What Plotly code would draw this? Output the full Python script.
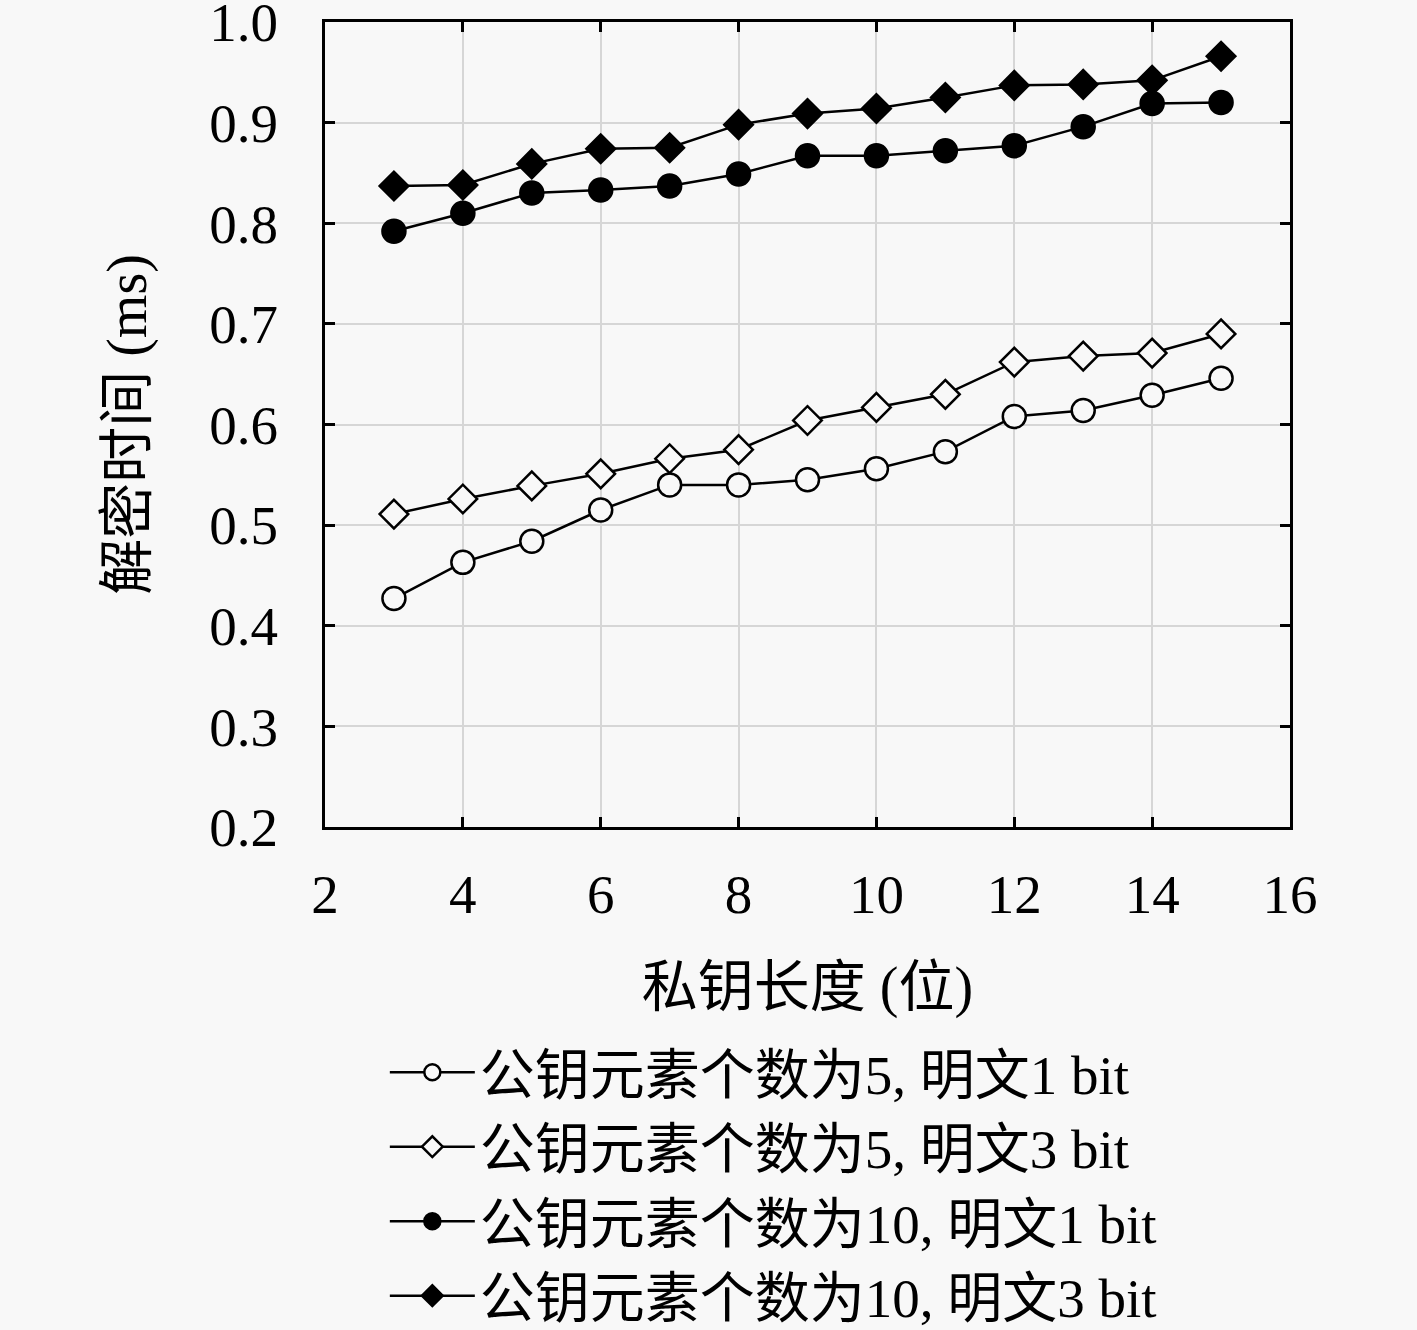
import plotly.graph_objects as go

key_len = [3, 4, 5, 6, 7, 8, 9, 10, 11, 12, 13, 14, 15]

s1_name = "公钥元素个数为5, 明文1 bit"
s1_vals = [0.427, 0.463, 0.484, 0.515, 0.540, 0.540, 0.545, 0.556, 0.573, 0.608, 0.614, 0.629, 0.646]

s2_name = "公钥元素个数为5, 明文3 bit"
s2_vals = [0.511, 0.526, 0.539, 0.551, 0.566, 0.575, 0.604, 0.617, 0.630, 0.662, 0.668, 0.671, 0.690]

s3_name = "公钥元素个数为10, 明文1 bit"
s3_vals = [0.792, 0.810, 0.830, 0.833, 0.837, 0.849, 0.867, 0.867, 0.872, 0.877, 0.896, 0.919, 0.920]

s4_name = "公钥元素个数为10, 明文3 bit"
s4_vals = [0.837, 0.838, 0.859, 0.874, 0.875, 0.898, 0.909, 0.914, 0.925, 0.937, 0.938, 0.942, 0.966]

x_ticks = [2, 4, 6, 8, 10, 12, 14, 16]
y_ticks = [0.2, 0.3, 0.4, 0.5, 0.6, 0.7, 0.8, 0.9, 1.0]
y_tick_labels = ["0.2", "0.3", "0.4", "0.5", "0.6", "0.7", "0.8", "0.9", "1.0"]

x_title = "私钥长度 (位)"
y_title = "解密时间 (ms)"

FONT = "Liberation Serif, Noto Sans CJK SC, serif"
BG = "#f8f8f8"

styles = [
    (s1_name, s1_vals, "circle", BG, 23),
    (s2_name, s2_vals, "diamond", BG, 22),
    (s3_name, s3_vals, "circle", "black", 23),
    (s4_name, s4_vals, "diamond", "black", 22),
]

fig = go.Figure()
for name, vals, sym, fill, size in styles:
    fig.add_trace(go.Scatter(
        x=key_len, y=vals, name=name, mode="lines+markers",
        line=dict(color="black", width=2.5),
        marker=dict(symbol=sym, size=size, color=fill,
                    line=dict(color="black", width=2.5)),
    ))

axis_common = dict(
    showline=True, linecolor="black", linewidth=3, mirror="ticks",
    ticks="inside", ticklen=10, tickwidth=2.5, tickcolor="black",
    showgrid=True, gridcolor="#d6d6d6", gridwidth=2,
    zeroline=False, ticklabeloverflow="allow",
    tickfont=dict(family=FONT, size=55, color="black"),
)

fig.update_xaxes(range=[2, 16], tickvals=x_ticks, ticklabelstandoff=17,
                 title=dict(text=x_title, standoff=43,
                            font=dict(family=FONT, size=56, color="black")),
                 **axis_common)
fig.update_yaxes(range=[0.2, 1.0], tickvals=y_ticks, ticktext=y_tick_labels,
                 ticklabelstandoff=33,
                 title=dict(text=y_title, standoff=45,
                            font=dict(family=FONT, size=56, color="black")),
                 **axis_common)

fig.update_layout(
    width=1417, height=1330,
    margin=dict(l=325, r=127, t=22, b=503, autoexpand=False),
    paper_bgcolor=BG, plot_bgcolor=BG,
    font=dict(family=FONT, color="black"),
    showlegend=True,
    legend=dict(x=0.062, y=0.2256, xref="paper", yref="container",
                xanchor="left", yanchor="top",
                bgcolor="rgba(0,0,0,0)",
                font=dict(family=FONT, size=55, color="black"),
                itemwidth=85, tracegroupgap=0),
)

fig.write_html(
    "out.html",
    config={"displayModeBar": False},
    post_script="document.body.style.margin='0';document.body.style.background='" + BG + "';",
)
